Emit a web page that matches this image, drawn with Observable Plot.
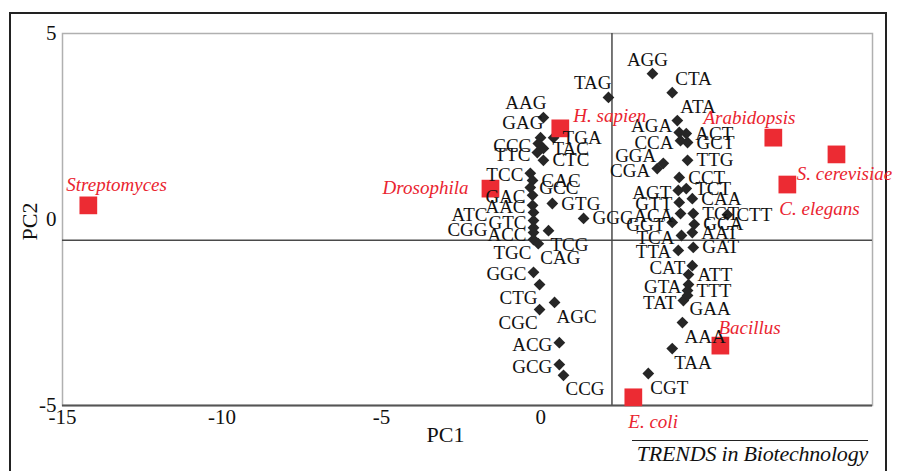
<!DOCTYPE html>
<html><head><meta charset="utf-8">
<script src="https://cdn.jsdelivr.net/npm/d3@7"></script>
<script src="https://cdn.jsdelivr.net/npm/@observablehq/plot@0.6"></script>
<style>
body{margin:0;background:#fff;}
#wrap{position:relative;width:897px;height:471px;overflow:hidden;font-family:"Liberation Serif","Times New Roman",serif;}
#frame{position:absolute;left:9px;top:12px;width:874px;height:480px;border:2px solid #222;border-bottom:none;pointer-events:none;}
#chart{position:absolute;left:0;top:0;}
#caption{position:absolute;left:632px;top:440px;width:236px;border-top:1.5px solid #222;font-style:italic;font-size:22px;line-height:26px;color:#111;text-align:right;letter-spacing:-0.2px;white-space:nowrap;}
</style></head>
<body><div id="wrap"><div id="frame"></div><div id="chart"></div><div id="caption"></div></div>
<script>
// ---- data ----
const codons = ["AAG","TAG","AGG","CTA","ATA","GAG","CCC","TGA","TAC","TTC","CTC","TCC","CAC","GCC","GAC","GTG","AAC","ATC","GTC","GGG","CGG","ACC","TCG","TGC","CAG","GGC","CTG","AGC","CGC","ACG","GCG","CCG",
  "AGA","ACT","CCA","GCT","GGA","TTG","CGA","CCT","AGT","TCT","GTT","CAA","ACA","TGT","CTT","GGT","GCA","TCA","AAT","TTA","GAT","CAT","ATT","GTA","TTT","TAT","GAA","AAA","TAA","CGT"];
const codonPC1 = [0.08,2.12,3.50,4.12,4.28,-0.01,-0.08,0.40,0.08,-0.11,0.08,-0.33,-0.26,-0.33,-0.26,0.36,-0.26,-0.23,-0.23,1.34,-0.23,-0.23,0.24,-0.23,-0.08,-0.23,-0.04,0.43,-0.04,0.58,0.58,0.71,
  4.34,4.56,4.38,4.60,3.84,4.60,3.65,4.34,4.31,4.56,4.34,4.75,4.38,4.78,5.85,4.12,4.81,4.41,4.75,4.31,4.78,4.75,4.63,4.63,4.60,4.47,4.60,4.44,4.12,3.37];
const codonPC2 = [2.74,3.28,3.92,3.41,2.66,2.20,2.04,2.20,1.91,1.80,1.59,1.24,1.05,0.86,0.65,0.43,0.38,0.19,-0.03,0.03,-0.22,-0.35,-0.30,-0.54,-0.65,-1.42,-1.75,-2.23,-2.42,-3.31,-3.90,-4.19,
  2.34,2.31,2.12,2.07,1.51,1.59,1.37,1.13,0.78,0.83,0.46,0.56,0.16,0.16,0.13,-0.08,-0.13,-0.43,-0.35,-0.83,-0.75,-1.24,-1.48,-1.75,-1.91,-2.18,-2.04,-2.77,-3.47,-4.14];
const codonLabelSide = ["UL","UL","U","UR","UR","UL","L","R","R","L","R","L","R","R","L","R","L","FL","L","R","FL","L","LR","LL","LR","L","LL","LR","LL","L","L","LR",
  "LU","R","L","R","LU","R","L","R","L","R","L","R","L","R","R","L","R","L","R","L","R","L","R","L","R","L","LR","LR","LR","LR"];

const species = ["Streptomyces","Drosophila","H. sapien","Arabidopsis","S. cerevisiae","C. elegans","Bacillus","E. coli"];
const speciesPC1 = [-14.19,-1.58,0.61,7.29,9.27,7.73,5.63,2.90];
const speciesPC2 = [0.38,0.83,2.45,2.20,1.75,0.94,-3.39,-4.78];
const speciesLabelSide = ["above","left","right","aboveEnd","belowMid","below","aboveStart","belowE"];

const xTicks = [-15,-10,-5,0];
const yTicks = [-5,0,5];
const crossX = [2.23];
const crossY = [-0.56];
const xTitle = ["PC1"];
const yTitle = ["PC2"];
const captionText = "TRENDS in Biotechnology";

// ---- tables ----
const codonData = codons.map((c,i)=>({codon:c, pc1:codonPC1[i], pc2:codonPC2[i], side:codonLabelSide[i]}));
const speciesData = species.map((s,i)=>({name:s, pc1:speciesPC1[i], pc2:speciesPC2[i], side:speciesLabelSide[i]}));

// ---- label placement styles ----
const codonOffsets = {
  L:{textAnchor:"end",dx:-7,dy:2},
  LU:{textAnchor:"end",dx:-7,dy:-7},
  FL:{textAnchor:"end",dx:-46,dy:2},
  R:{textAnchor:"start",dx:9,dy:0},
  UL:{textAnchor:"end",dx:3,dy:-15},
  UR:{textAnchor:"start",dx:3,dy:-14},
  U:{textAnchor:"middle",dx:-5,dy:-14},
  LL:{textAnchor:"end",dx:-2,dy:13},
  LR:{textAnchor:"start",dx:2,dy:14}
};
const speciesOffsets = {
  above:{textAnchor:"start",dx:-22,dy:-20},
  left:{textAnchor:"end",dx:-22,dy:-1},
  right:{textAnchor:"start",dx:13,dy:-12},
  aboveEnd:{textAnchor:"end",dx:22,dy:-20},
  belowMid:{textAnchor:"middle",dx:8,dy:20},
  below:{textAnchor:"start",dx:-8,dy:24},
  aboveStart:{textAnchor:"start",dx:-2,dy:-18},
  belowE:{textAnchor:"start",dx:-5,dy:25}
};

const fontFam = '"Liberation Serif","Times New Roman",serif';
const marks = [
  Plot.frame({stroke:"#b0b0b0", strokeWidth:1.5}),
  Plot.ruleY(crossY, {stroke:"#4a4a4a", strokeWidth:1.5}),
  Plot.ruleX(crossX, {stroke:"#4a4a4a", strokeWidth:1.5}),
  Plot.ruleY([d3.min(yTicks)], {stroke:"#555", strokeWidth:2}),
  Plot.dot(codonData, {x:"pc1", y:"pc2", symbol:"diamond2", r:5.3, fill:"#262626", stroke:"none"}),
  Plot.dot(speciesData, {x:"pc1", y:"pc2", symbol:"square", r:10, fill:"#ec2b33", stroke:"none"})
];
for (const k of Object.keys(codonOffsets)) {
  marks.push(Plot.text(codonData.filter(d=>d.side===k), {x:"pc1", y:"pc2", text:"codon", fill:"#111", fontSize:19, ...codonOffsets[k]}));
}
for (const k of Object.keys(speciesOffsets)) {
  marks.push(Plot.text(speciesData.filter(d=>d.side===k), {x:"pc1", y:"pc2", text:"name", fill:"#ea2430", fontSize:19, fontStyle:"italic", ...speciesOffsets[k]}));
}
marks.push(Plot.text(xTitle, {frameAnchor:"bottom", text:d=>d, dx:-22, dy:36, fontSize:22, fill:"#111"}));
marks.push(Plot.text(yTitle, {frameAnchor:"left", text:d=>d, dx:-33, dy:21, rotate:-90, fontSize:22, fill:"#111"}));

const chart = Plot.plot({
  width:897, height:471,
  marginLeft:62, marginRight:25, marginTop:33, marginBottom:66,
  style:{fontFamily:fontFam, fontSize:"21px", color:"#111", background:"transparent", overflow:"visible"},
  x:{domain:[-15,10.4], ticks:xTicks, tickSize:0, tickPadding:4, label:null, tickFormat:d=>String(d)},
  y:{domain:[-5,5], ticks:yTicks, tickSize:0, tickPadding:6, label:null, tickFormat:d=>String(d)},
  marks
});
document.getElementById("chart").appendChild(chart);
document.getElementById("caption").textContent = captionText;
</script>
</body></html>
